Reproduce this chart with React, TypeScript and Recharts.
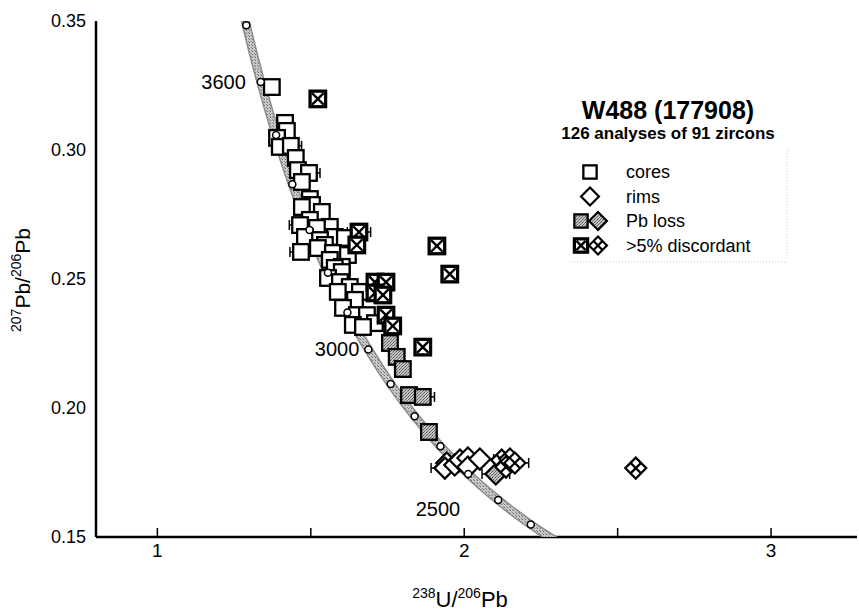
import React from "react";
import { ErrorBar, Scatter, ScatterChart, XAxis, YAxis } from "recharts";

const FONT = '"Liberation Sans", Arial, Helvetica, sans-serif';

// concordia points read along the grey band (Ma, 238U/206Pb, 207Pb/206Pb)
const concordia = [
  { age: 3800, u: 1.2453, pb: 0.3721 },
  { age: 3700, u: 1.2898, pb: 0.3484 },
  { age: 3600, u: 1.337, pb: 0.3264 },
  { age: 3500, u: 1.3869, pb: 0.3058 },
  { age: 3400, u: 1.4398, pb: 0.2867 },
  { age: 3300, u: 1.496, pb: 0.269 },
  { age: 3200, u: 1.5557, pb: 0.2524 },
  { age: 3100, u: 1.6194, pb: 0.237 },
  { age: 3000, u: 1.6875, pb: 0.2227 },
  { age: 2900, u: 1.7603, pb: 0.2093 },
  { age: 2800, u: 1.8384, pb: 0.1968 },
  { age: 2700, u: 1.9224, pb: 0.1852 },
  { age: 2600, u: 2.0129, pb: 0.1744 },
  { age: 2500, u: 2.1108, pb: 0.1643 },
  { age: 2400, u: 2.217, pb: 0.1548 },
  { age: 2300, u: 2.3325, pb: 0.146 },
];
const labelledAges = [3600, 3000, 2500];

const cores = [
  { u: 1.373, pb: 0.3244, err: 0.02 },
  { u: 1.416, pb: 0.3105, err: 0.02 },
  { u: 1.422, pb: 0.3074, err: 0.02 },
  { u: 1.39, pb: 0.3047, err: 0.02 },
  { u: 1.399, pb: 0.3012, err: 0.02 },
  { u: 1.435, pb: 0.3016, err: 0.035 },
  { u: 1.451, pb: 0.2969, err: 0.02 },
  { u: 1.458, pb: 0.2922, err: 0.02 },
  { u: 1.494, pb: 0.2911, err: 0.036 },
  { u: 1.471, pb: 0.2876, err: 0.02 },
  { u: 1.497, pb: 0.281, err: 0.02 },
  { u: 1.504, pb: 0.2787, err: 0.02 },
  { u: 1.471, pb: 0.2779, err: 0.02 },
  { u: 1.536, pb: 0.276, err: 0.02 },
  { u: 1.497, pb: 0.2729, err: 0.02 },
  { u: 1.465, pb: 0.2709, err: 0.035 },
  { u: 1.562, pb: 0.2702, err: 0.02 },
  { u: 1.52, pb: 0.2698, err: 0.02 },
  { u: 1.481, pb: 0.2663, err: 0.02 },
  { u: 1.578, pb: 0.2663, err: 0.02 },
  { u: 1.611, pb: 0.2659, err: 0.02 },
  { u: 1.53, pb: 0.2651, err: 0.02 },
  { u: 1.546, pb: 0.2632, err: 0.02 },
  { u: 1.523, pb: 0.262, err: 0.02 },
  { u: 1.468, pb: 0.2605, err: 0.036 },
  { u: 1.572, pb: 0.2601, err: 0.02 },
  { u: 1.621, pb: 0.2593, err: 0.02 },
  { u: 1.562, pb: 0.2574, err: 0.02 },
  { u: 1.601, pb: 0.2547, err: 0.02 },
  { u: 1.578, pb: 0.2543, err: 0.02 },
  { u: 1.601, pb: 0.2527, err: 0.02 },
  { u: 1.556, pb: 0.2504, err: 0.02 },
  { u: 1.595, pb: 0.2488, err: 0.02 },
  { u: 1.627, pb: 0.2469, err: 0.02 },
  { u: 1.588, pb: 0.245, err: 0.02 },
  { u: 1.66, pb: 0.245, err: 0.02 },
  { u: 1.644, pb: 0.2419, err: 0.02 },
  { u: 1.605, pb: 0.2388, err: 0.02 },
  { u: 1.65, pb: 0.236, err: 0.02 },
  { u: 1.683, pb: 0.236, err: 0.02 },
  { u: 1.709, pb: 0.2329, err: 0.02 },
  { u: 1.637, pb: 0.2322, err: 0.02 },
  { u: 1.67, pb: 0.2314, err: 0.02 },
];

const rims = [
  { u: 1.943, pb: 0.1787, err: 0.02 },
  { u: 1.937, pb: 0.1767, err: 0.045 },
  { u: 1.969, pb: 0.1779, err: 0.02 },
  { u: 1.986, pb: 0.1798, err: 0.02 },
  { u: 2.012, pb: 0.1806, err: 0.02 },
  { u: 2.012, pb: 0.1771, err: 0.02 },
  { u: 2.051, pb: 0.1802, err: 0.045 },
];

const lossSquares = [
  { u: 1.758, pb: 0.2252, err: 0.02 },
  { u: 1.78, pb: 0.2198, err: 0.02 },
  { u: 1.8, pb: 0.2151, err: 0.02 },
  { u: 1.82, pb: 0.205, err: 0.02 },
  { u: 1.865, pb: 0.2043, err: 0.038 },
  { u: 1.885, pb: 0.1907, err: 0.02 },
];

const lossDiamonds = [{ u: 2.103, pb: 0.1744, err: 0.045 }];

const discSquares = [
  { u: 1.523, pb: 0.3198, err: 0.02 },
  { u: 1.657, pb: 0.2682, err: 0.038 },
  { u: 1.65, pb: 0.2632, err: 0.02 },
  { u: 1.911, pb: 0.2628, err: 0.02 },
  { u: 1.953, pb: 0.2519, err: 0.025 },
  { u: 1.709, pb: 0.2488, err: 0.02 },
  { u: 1.745, pb: 0.2488, err: 0.02 },
  { u: 1.709, pb: 0.2446, err: 0.02 },
  { u: 1.735, pb: 0.2438, err: 0.02 },
  { u: 1.745, pb: 0.236, err: 0.02 },
  { u: 1.767, pb: 0.2318, err: 0.02 },
  { u: 1.865, pb: 0.2236, err: 0.02 },
];

const discDiamonds = [
  { u: 2.122, pb: 0.1798, err: 0.02 },
  { u: 2.149, pb: 0.1802, err: 0.02 },
  { u: 2.136, pb: 0.1771, err: 0.02 },
  { u: 2.165, pb: 0.1787, err: 0.045 },
  { u: 2.559, pb: 0.1767, err: 0.02 },
];

const xTicks = [1, 1.5, 2, 2.5, 3];
const yTicks = [0.15, 0.2, 0.25, 0.3, 0.35];

const legendRows = [
  { label: "cores", icons: ["core"] },
  { label: "rims", icons: ["rim"] },
  { label: "Pb loss", icons: ["lossSq", "lossDia"] },
  { label: ">5% discordant", icons: ["discSq", "discDia"] },
];

const HALF = 7.8;
const DIA = 10.5;

function square(cx: number, cy: number, fill: string, h = HALF) {
  return (
    <rect x={cx - h} y={cy - h} width={h * 2} height={h * 2} fill={fill} stroke="#000" strokeWidth={2.3} />
  );
}

function diamondPts(cx: number, cy: number, r: number) {
  return `${cx},${cy - r} ${cx + r},${cy} ${cx},${cy + r} ${cx - r},${cy}`;
}

function Marker({ kind, cx, cy, scale = 1 }: { kind: string; cx: number; cy: number; scale?: number }) {
  const h = HALF * scale;
  const r = DIA * scale;
  if (kind === "core") return square(cx, cy, "#fff", h);
  if (kind === "lossSq") return square(cx, cy, "url(#stip)", h);
  if (kind === "discSq") {
    const k = h - 2;
    return (
      <g>
        {square(cx, cy, "#fff", h)}
        <rect x={cx - h} y={cy - h} width={h * 2} height={h * 2} fill="none" stroke="#000" strokeWidth={3.2} />
        <line x1={cx - k} y1={cy - k} x2={cx + k} y2={cy + k} stroke="#000" strokeWidth={2.4} />
        <line x1={cx - k} y1={cy + k} x2={cx + k} y2={cy - k} stroke="#000" strokeWidth={2.4} />
      </g>
    );
  }
  if (kind === "rim")
    return <polygon points={diamondPts(cx, cy, r)} fill="#fff" stroke="#000" strokeWidth={2.2} />;
  if (kind === "lossDia")
    return <polygon points={diamondPts(cx, cy, r)} fill="url(#stip)" stroke="#000" strokeWidth={2.2} />;
  // discordant diamond: split in four small diamonds
  const m = r / 2;
  return (
    <g>
      <polygon points={diamondPts(cx, cy, r)} fill="#fff" stroke="#000" strokeWidth={2.2} />
      <line x1={cx - m} y1={cy - m} x2={cx + m} y2={cy + m} stroke="#000" strokeWidth={2.2} />
      <line x1={cx - m} y1={cy + m} x2={cx + m} y2={cy - m} stroke="#000" strokeWidth={2.2} />
    </g>
  );
}

const shapeOf = (kind: string) => (p: any) => <Marker kind={kind} cx={p.cx} cy={p.cy} />;

const ageOffsets: Record<number, [number, number]> = {
  3600: [-15, 0],
  3000: [-9, 0],
  2500: [-38, 9],
};

function XTick({ x, y, payload }: any) {
  const major = Number.isInteger(payload.value);
  return (
    <g>
      <line x1={x} x2={x} y1={y - 7} y2={y - 16} stroke="#000" strokeWidth={1.5} />
      {major && (
        <text x={x} y={y} dy="0.71em" textAnchor="middle" fontSize={19} fontFamily={FONT} fill="#000">
          {payload.value}
        </text>
      )}
    </g>
  );
}

const axisLine = { stroke: "#000", strokeWidth: 2.5 };

export default function App() {
  const ageMarks = concordia.filter((d) => d.age >= 2400 && d.age <= 3700);
  const ageLabels = concordia.filter((d) => labelledAges.includes(d.age));

  return (
    <div style={{ position: "absolute", left: 0, top: 0, width: 859, height: 611, background: "#fff", fontFamily: FONT }}>
      <ScatterChart width={859} height={611} margin={{ top: 21, right: 2, bottom: 14, left: 0 }}>
        <XAxis
          type="number"
          dataKey="u"
          domain={[0.8, 3.28]}
          allowDataOverflow
          ticks={xTicks}
          tick={<XTick />}
          tickLine={false}
          tickSize={0}
          tickMargin={7}
          axisLine={axisLine}
          height={60}
        />
        <XAxis
          xAxisId="top"
          orientation="top"
          type="number"
          dataKey="u"
          domain={[0.8, 3.28]}
          tick={false}
          tickLine={false}
          axisLine={axisLine}
          height={0}
        />
        <YAxis
          type="number"
          dataKey="pb"
          domain={[0.15, 0.35]}
          allowDataOverflow
          ticks={yTicks}
          tickFormatter={(v: number) => v.toFixed(2)}
          tick={{ fontSize: 18, fill: "#000", fontFamily: FONT }}
          tickLine={false}
          tickSize={0}
          tickMargin={10}
          axisLine={axisLine}
          width={96}
        />
        <Scatter
          data={concordia}
          line={{ stroke: "#8c8c8c", strokeWidth: 9 }}
          lineJointType="monotoneX"
          shape={() => <g />}
          isAnimationActive={false}
        />
        <Scatter
          data={concordia}
          line={{ stroke: "url(#band)", strokeWidth: 6 }}
          lineJointType="monotoneX"
          shape={() => <g />}
          isAnimationActive={false}
        />
        <Scatter data={cores} shape={shapeOf("core")} isAnimationActive={false}>
          <ErrorBar dataKey="err" direction="x" width={5} stroke="#000" strokeWidth={1.5} isAnimationActive={false} />
        </Scatter>
        <Scatter data={lossSquares} shape={shapeOf("lossSq")} isAnimationActive={false}>
          <ErrorBar dataKey="err" direction="x" width={5} stroke="#000" strokeWidth={1.5} isAnimationActive={false} />
        </Scatter>
        <Scatter data={discSquares} shape={shapeOf("discSq")} isAnimationActive={false}>
          <ErrorBar dataKey="err" direction="x" width={5} stroke="#000" strokeWidth={1.5} isAnimationActive={false} />
        </Scatter>
        <Scatter data={rims} shape={shapeOf("rim")} isAnimationActive={false}>
          <ErrorBar dataKey="err" direction="x" width={5} stroke="#000" strokeWidth={1.5} isAnimationActive={false} />
        </Scatter>
        <Scatter data={lossDiamonds} shape={shapeOf("lossDia")} isAnimationActive={false}>
          <ErrorBar dataKey="err" direction="x" width={5} stroke="#000" strokeWidth={1.5} isAnimationActive={false} />
        </Scatter>
        <Scatter data={discDiamonds} shape={shapeOf("discDia")} isAnimationActive={false}>
          <ErrorBar dataKey="err" direction="x" width={5} stroke="#000" strokeWidth={1.5} isAnimationActive={false} />
        </Scatter>
        <Scatter
          data={ageMarks}
          shape={(p: any) => <circle cx={p.cx} cy={p.cy} r={3.5} fill="#fff" stroke="#000" strokeWidth={1.5} />}
          isAnimationActive={false}
        />
        <Scatter
          data={ageLabels}
          shape={(p: any) => {
            const [dx, dy] = ageOffsets[p.payload.age] || [-12, 0];
            return (
              <text
                x={p.cx + dx}
                y={p.cy + dy}
                dy="0.35em"
                textAnchor="end"
                fontSize={20}
                fontFamily={FONT}
                fill="#000"
              >
                {p.payload.age}
              </text>
            );
          }}
          isAnimationActive={false}
        />
      </ScatterChart>

      <svg
        width={859}
        height={611}
        style={{ position: "absolute", left: 0, top: 0, pointerEvents: "none" }}
      >
        <defs>
          <pattern id="stip" width="3" height="3" patternUnits="userSpaceOnUse">
            <rect width="3" height="3" fill="#c4c4c4" />
            <rect width="1" height="1" fill="#555" />
            <rect x="2" y="1" width="1" height="1" fill="#777" />
            <rect x="1" y="2" width="1" height="1" fill="#666" />
          </pattern>
          <pattern id="band" width="3" height="3" patternUnits="userSpaceOnUse">
            <rect width="3" height="3" fill="#c8c8c8" />
            <rect width="1" height="1" fill="#6a6a6a" />
            <rect x="2" y="2" width="1" height="1" fill="#888" />
          </pattern>
        </defs>

        <text x={668} y={119} textAnchor="middle" fontSize={25} fontWeight="bold" fontFamily={FONT}>
          W488 (177908)
        </text>
        <text x={668} y={139} textAnchor="middle" fontSize={17} fontWeight="bold" fontFamily={FONT}>
          126 analyses of 91 zircons
        </text>

        {legendRows.map((row, i) => {
          const cy = 172 + i * 24.5;
          return (
            <g key={row.label}>
              {row.icons.length === 1 ? (
                <Marker kind={row.icons[0]} cx={590} cy={cy} scale={0.85} />
              ) : (
                <>
                  <Marker kind={row.icons[0]} cx={581} cy={cy} scale={0.85} />
                  <Marker kind={row.icons[1]} cx={598} cy={cy} scale={0.85} />
                </>
              )}
              <text x={626} y={cy} dy="0.35em" fontSize={18} fontFamily={FONT}>
                {row.label}
              </text>
            </g>
          );
        })}
        <polyline
          points="787,150 787,262 570,262"
          fill="none"
          stroke="#c8c8c8"
          strokeWidth={1}
          strokeDasharray="1 2"
        />

        <text x={460} y={607} textAnchor="middle" fontFamily={FONT} fill="#000">
          <tspan fontSize={14} dy={-9}>238</tspan>
          <tspan fontSize={22} dy={9}>U/</tspan>
          <tspan fontSize={14} dy={-9}>206</tspan>
          <tspan fontSize={22} dy={9}>Pb</tspan>
        </text>
        <text
          transform="translate(30 280) rotate(-90)"
          textAnchor="middle"
          fontFamily={FONT}
          fill="#000"
        >
          <tspan fontSize={14} dy={-9}>207</tspan>
          <tspan fontSize={21} dy={9}>Pb/</tspan>
          <tspan fontSize={14} dy={-9}>206</tspan>
          <tspan fontSize={21} dy={9}>Pb</tspan>
        </text>
      </svg>
    </div>
  );
}
